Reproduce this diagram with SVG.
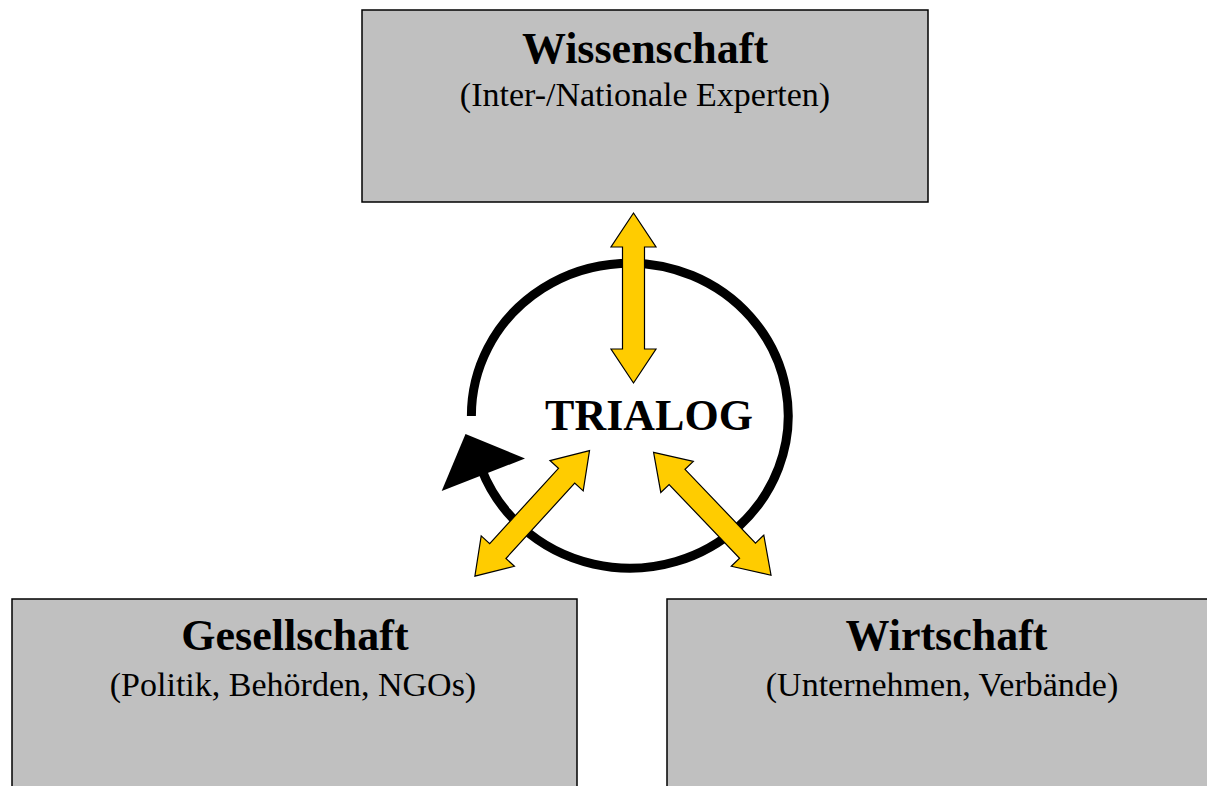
<svg xmlns="http://www.w3.org/2000/svg" width="1207" height="786" viewBox="0 0 1207 786">
<style>
.box{fill:#C0C0C0;stroke:#000;stroke-width:1.5}
.title{font-family:"Liberation Serif","Times New Roman",serif;font-weight:bold;font-size:44px;fill:#000;text-anchor:middle}
.sub{font-family:"Liberation Serif","Times New Roman",serif;font-size:34px;fill:#000;text-anchor:middle}
.dbl{fill:#FFCC00;stroke:#000;stroke-width:1.2;stroke-linejoin:miter}
</style>
<defs>
<path id="dblArrow" d="M0,-85 L22.5,-51 L11,-51 L11,51 L22.5,51 L0,85 L-22.5,51 L-11,51 L-11,-51 L-22.5,-51 Z"/>
</defs>
<rect width="1207" height="786" fill="#fff"/>
<g id="wissenschaft">
<rect class="box" x="362" y="10" width="566" height="192"/>
<text class="title" x="645" y="62.5">Wissenschaft</text>
<text class="sub" x="645" y="106">(Inter-/Nationale Experten)</text>
</g>
<g id="gesellschaft">
<rect class="box" x="12" y="599" width="565" height="200"/>
<text class="title" x="295" y="649.5">Gesellschaft</text>
<text class="sub" x="293" y="696">(Politik, Behörden, NGOs)</text>
</g>
<g id="wirtschaft">
<rect class="box" x="667" y="599" width="560" height="200"/>
<text class="title" x="946.5" y="649.5">Wirtschaft</text>
<text class="sub" x="942" y="696">(Unternehmen, Verbände)</text>
</g>
<g id="trialog">
<path d="M471.4,416 A158.4,152.5 0 1 1 481.1,468.2" fill="none" stroke="#000" stroke-width="9"/>
<polygon points="465.5,434 525,458.5 441.7,491" fill="#000"/>
<text class="title" x="649" y="429.5">TRIALOG</text>
</g>
<g id="connectors">
<use href="#dblArrow" class="dbl" transform="translate(633.5,298)"/>
<use href="#dblArrow" class="dbl" transform="translate(532.2,513.4) rotate(42.4)"/>
<use href="#dblArrow" class="dbl" transform="translate(712.3,513.8) rotate(-43.7)"/>
</g>
</svg>
